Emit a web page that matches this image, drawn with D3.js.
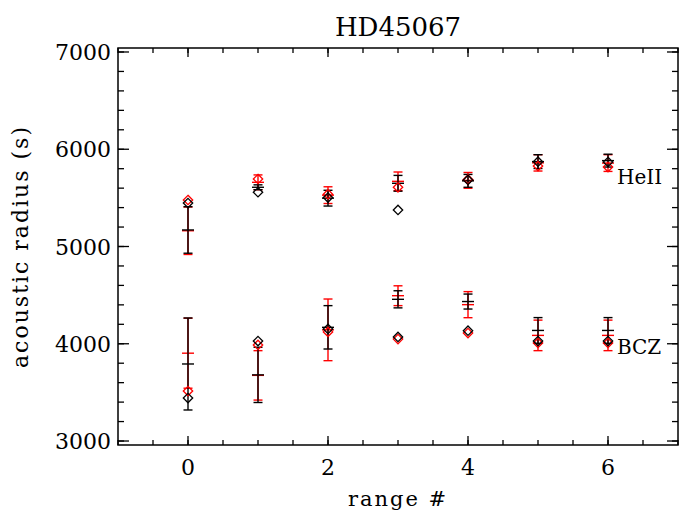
<!DOCTYPE html>
<html>
<head>
<meta charset="utf-8">
<script src="https://cdn.jsdelivr.net/npm/d3@7"></script>
<style>
  body { margin: 0; background: #fff; }
  text { font-family: "DejaVu Serif", serif; fill: #000; }
</style>
</head>
<body>
<div id="chart"></div>
<script>
// range numbers (x)
var ranges = [0, 1, 2, 3, 4, 5, 6];

// HeII glitch: diamonds and error bars
var heBlackDiamond = [5447, 5558, 5503, 5376, 5684, 5872, 5869];
var heRedDiamond   = [5478, 5694, 5538, 5609, 5690, 5827, 5817];
var heBlackMean    = [5170, 5609, 5497, 5650, 5675, 5873, 5883];
var heBlackErr     = [239, 25, 81, 81, 66, 71, 66];
var heRedMean      = [5162, 5660, 5528, 5670, 5680, 5860, 5858];
var heRedErr       = [244, 76, 86, 96, 81, 84, 86];

// BCZ glitch: diamonds and error bars
var bczBlackDiamond = [3442, 4028, 4152, 4070, 4134, 4028, 4028];
var bczRedDiamond   = [3514, 3988, 4122, 4048, 4110, 4008, 4008];
var bczBlackMean    = [3792, 3680, 4169, 4457, 4434, 4137, 4137];
var bczBlackErr     = [473, 284, 223, 88, 77, 132, 132];
var bczRedMean      = [3903, 3675, 4143, 4494, 4402, 4086, 4086];
var bczRedErr       = [360, 254, 317, 102, 134, 157, 157];

var xTicks = [0, 2, 4, 6];
var yTicks = [3000, 4000, 5000, 6000, 7000];

var width = 692;
var height = 516;
var margin = {top: 48, right: 14, bottom: 71, left: 118};
var w = width - margin.left - margin.right;
var h = height - margin.top - margin.bottom;

var svg = d3.select("#chart")
  .append("svg")
  .attr("width", width)
  .attr("height", height)
  .append("g")
  .attr("transform", `translate(${margin.left},${margin.top})`);

var x = d3.scaleLinear().domain([-1, 7]).range([0, w]);
var y = d3.scaleLinear().domain([2959, 7041]).range([h, 0]);

// minor + major ticks on all four sides (IDL style box)
var xMinor = d3.range(-1, 7.01, 0.5);
var yMinor = d3.range(3000, 7001, 200);

function tickSet(vals, len, isX) {
  vals.forEach(v => {
    if (isX) {
      svg.append("line").attr("x1", x(v)).attr("x2", x(v)).attr("y1", h).attr("y2", h - len);
      svg.append("line").attr("x1", x(v)).attr("x2", x(v)).attr("y1", 0).attr("y2", len);
    } else {
      svg.append("line").attr("x1", 0).attr("x2", len).attr("y1", y(v)).attr("y2", y(v));
      svg.append("line").attr("x1", w).attr("x2", w - len).attr("y1", y(v)).attr("y2", y(v));
    }
  });
}
tickSet(xMinor, 5, true);
tickSet(xTicks, 9, true);
tickSet(yMinor, 6, false);
tickSet(yTicks, 11, false);
svg.selectAll("line").attr("stroke", "#000").attr("stroke-width", 1.3);

svg.append("rect")
  .attr("width", w).attr("height", h)
  .attr("fill", "none").attr("stroke", "#000").attr("stroke-width", 1.5);

// tick labels
svg.selectAll(".xlab").data(xTicks).enter().append("text")
  .attr("x", d => x(d)).attr("y", h + 30)
  .attr("text-anchor", "middle").style("font-size", "22px")
  .text(d => d);
svg.selectAll(".ylab").data(yTicks).enter().append("text")
  .attr("x", -7).attr("y", d => y(d) + 8)
  .attr("text-anchor", "end").style("font-size", "22px")
  .text(d => d);

// error bars: vertical line, caps and centre tick
function errorBars(mean, err, color) {
  var g = svg.append("g").attr("stroke", color).attr("stroke-width", 1.4);
  ranges.forEach((r, i) => {
    var cx = x(r);
    g.append("line").attr("x1", cx).attr("x2", cx)
      .attr("y1", y(mean[i] - err[i])).attr("y2", y(mean[i] + err[i]));
    [mean[i] - err[i], mean[i] + err[i]].forEach(v => {
      g.append("line").attr("x1", cx - 4.5).attr("x2", cx + 4.5).attr("y1", y(v)).attr("y2", y(v));
    });
    g.append("line").attr("x1", cx - 6).attr("x2", cx + 6)
      .attr("y1", y(mean[i])).attr("y2", y(mean[i]));
  });
}

var diamond = d3.symbol().type(d3.symbolDiamond2).size(56);
function diamonds(vals, color) {
  svg.append("g").selectAll("path").data(vals).enter().append("path")
    .attr("d", diamond)
    .attr("transform", (d, i) => `translate(${x(ranges[i])},${y(d)})`)
    .attr("fill", "none").attr("stroke", color).attr("stroke-width", 1.3);
}

errorBars(heRedMean, heRedErr, "#ff0000");
errorBars(bczRedMean, bczRedErr, "#ff0000");
errorBars(heBlackMean, heBlackErr, "#000");
errorBars(bczBlackMean, bczBlackErr, "#000");
diamonds(heRedDiamond, "#ff0000");
diamonds(bczRedDiamond, "#ff0000");
diamonds(heBlackDiamond, "#000");
diamonds(bczBlackDiamond, "#000");

// glitch labels
svg.append("text").attr("x", x(6) + 9).attr("y", y(5643))
  .style("font-size", "20px").text("HeII");
svg.append("text").attr("x", x(6) + 9).attr("y", y(3898))
  .style("font-size", "20px").text("BCZ");

// titles
svg.append("text").attr("x", w / 2).attr("y", -12)
  .attr("text-anchor", "middle").style("font-size", "26px")
  .text("HD45067");
svg.append("text").attr("x", w / 2).attr("y", h + 61)
  .attr("text-anchor", "middle").style("font-size", "21px")
  .style("letter-spacing", "2px")
  .text("range #");
svg.append("text")
  .attr("transform", `translate(${-90},${h / 2}) rotate(-90)`)
  .attr("text-anchor", "middle").style("font-size", "22px")
  .style("letter-spacing", "2px")
  .text("acoustic radius (s)");
</script>
</body>
</html>
